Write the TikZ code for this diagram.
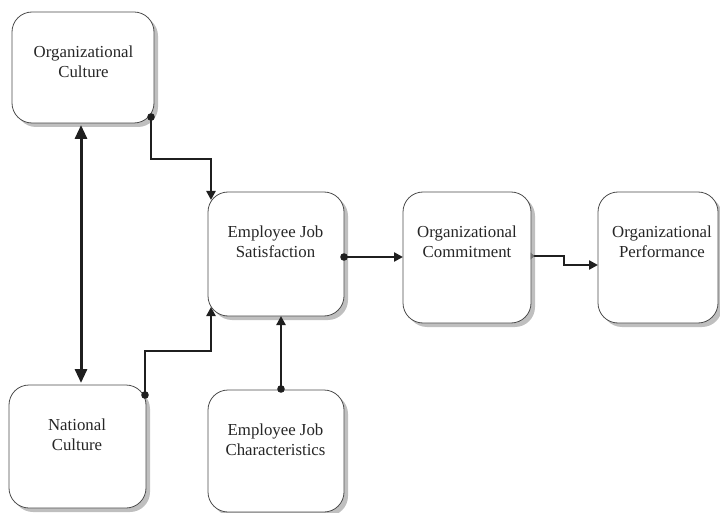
\documentclass[tikz,border=0pt]{standalone}
\usepackage{fontspec}
\setmainfont{Liberation Serif}
\usetikzlibrary{arrows.meta,shadows,calc}
\begin{document}
\begin{tikzpicture}[x=1pt,y=-1pt,
  box/.style={draw=black!70,line width=0.8pt,fill=white,rounded corners=20pt,
    inner sep=0pt,outer sep=0pt,
    drop shadow={shadow xshift=4pt,shadow yshift=-4pt,fill=black!25,opacity=1}},
  lbl/.style={align=center,font=\fontsize{16.8}{20}\selectfont,text=black!85,inner sep=0pt},
  conn/.style={draw=black!88,line width=2.8pt,-{Triangle[length=9pt,width=9pt]}},
  dbl/.style={draw=black!88,line width=3pt,{Triangle[length=14pt,width=12pt]}-{Triangle[length=14pt,width=12pt]}},
  dotc/.style={fill=black!88}]
\useasboundingbox (0,0) rectangle (720,513);
% boxes
\node[box,minimum width=142pt,minimum height=111pt] (oc) at (83,67.5) {};
\node[box,minimum width=136pt,minimum height=124pt] (ejs) at (276,254) {};
\node[box,minimum width=128pt,minimum height=131pt] (ocom) at (467,257.5) {};
\node[box,minimum width=120pt,minimum height=131pt] (op) at (658,257.5) {};
\node[box,minimum width=137pt,minimum height=123pt] (nc) at (77.5,446.5) {};
\node[box,minimum width=136pt,minimum height=122pt] (ejc) at (276,451) {};
% labels
\node[lbl] (oct) at (83.5,61.5) {Organizational\\Culture};
\node[lbl] (ejst) at (275.5,241.5) {Employee Job\\Satisfaction};
\node[lbl] (ocomt) at (467,242) {Organizational\\Commitment};
\node[lbl] (opt) at (662,242) {Organizational\\Performance};
\node[lbl] (nct) at (77,434.5) {National\\Culture};
\node[lbl] (ejct) at (275.5,439.5) {Employee Job\\Characteristics};
% connector points
\coordinate (a1) at ([xshift=-2pt,yshift=-2pt]oc.south);
\coordinate (a2) at ([xshift=3.5pt,yshift=2pt]nc.north);
\coordinate (p1) at ([xshift=-3pt,yshift=6pt]oc.south east);
\coordinate (q1) at ([xshift=3pt,yshift=-8pt]ejs.north west);
\coordinate (p2) at ([xshift=-1pt,yshift=-10pt]nc.north east);
\coordinate (q2) at ([xshift=3pt,yshift=9pt]ejs.south west);
\coordinate (p3) at ([xshift=5pt,yshift=1pt]ejc.north);
\coordinate (q3) at ([xshift=5pt]ejs.south);
\coordinate (p4) at ([yshift=-3pt]ejs.east);
\coordinate (p5) at ([yshift=1.5pt]ocom.east);
\coordinate (q5) at ([yshift=-7.5pt]op.west);
% connectors
\draw[dbl] (a1) -- (a1 |- a2);
\draw[conn] (p1) -- ++(0,42) -| (q1);
\draw[conn] (p2) -- ++(0,-44) -| (q2);
\draw[conn] (p3) -- (q3);
\draw[conn] (p4) -- (p4 -| ocom.west);
\draw[conn] (p5) -- ++(33,0) |- (q5);
\fill[black!55] (p5) ++(3.5,0) -- ++(-4,-3.5) -- ++(0,7) -- cycle;
% dots
\fill[dotc] (p1) circle (3.8pt);
\fill[dotc] (p2) circle (3.8pt);
\fill[dotc] (p3) circle (3.8pt);
\fill[dotc] (p4) circle (3.8pt);
\end{tikzpicture}
\end{document}
